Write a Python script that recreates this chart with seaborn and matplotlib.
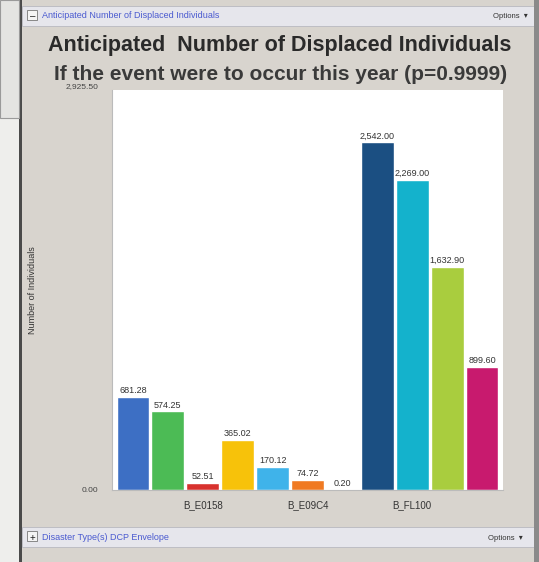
import numpy as np
import matplotlib
matplotlib.use("Agg")
import matplotlib.pyplot as plt
from matplotlib.patches import Rectangle
import seaborn as sns

# Chart data
bar_ids = ["b0", "b1", "b2", "b3", "b4", "b5", "b6", "b7", "b8", "b9", "b10"]
bar_values = [681.28, 574.25, 52.51, 365.02, 170.12, 74.72, 0.20,
              2542.00, 2269.00, 1632.90, 899.60]
bar_colors = ["#3d6fc4", "#4cbb55", "#d8322e", "#f7c20a", "#3fb3ea", "#f07a22",
              "#e8e8e8", "#1b4f82", "#14b2cc", "#a9cd3e", "#c81a6e"]
group_ticks = [2, 5, 8]
group_labels = ["B_E0158", "B_E09C4", "B_FL100"]
y_max = 2925.50

W, H = 539, 562
panel_bg = "#d8d4ce"

sns.set_theme(style="white")
plt.rcParams["font.family"] = ["Liberation Sans", "DejaVu Sans"]

fig = plt.figure(figsize=(W / 100, H / 100), dpi=100)
fig.patch.set_facecolor("#eeeeec")

def px_rect(x, y, w, h, **kw):
    # rectangle given in screen pixels (top-left origin), kept behind the axes
    fig.patches.append(Rectangle((x / W, 1 - (y + h) / H), w / W, h / H,
                                 transform=fig.transFigure, zorder=-5, **kw))

# window chrome
px_rect(22, 0, 517, 562, facecolor=panel_bg, edgecolor="none")
px_rect(19, 0, 3, 562, facecolor="#4a4a4a", edgecolor="none")
px_rect(0, 0, 19, 118, facecolor="#e4e4e2", edgecolor="#9a9a9a", lw=0.8)
px_rect(22, 6, 517, 20, facecolor="#e6e6ec", edgecolor="#b8b8c0", lw=0.6)
px_rect(22, 527, 517, 20, facecolor="#e6e6ec", edgecolor="#b8b8c0", lw=0.6)
px_rect(534, 0, 5, 562, facecolor="#8a8a8a", edgecolor="none")
px_rect(27, 10, 10, 10, facecolor="#f4f4f4", edgecolor="#777777", lw=0.6)
px_rect(27, 531, 10, 10, facecolor="#f4f4f4", edgecolor="#777777", lw=0.6)

fig.text(30 / W, 1 - 16 / H, "\u2013", fontsize=7, ha="left", va="center", color="#222222")
fig.text(32 / W, 1 - 538 / H, "+", fontsize=7, ha="center", va="center", color="#222222")
fig.text(42 / W, 1 - 16 / H, "Anticipated Number of Displaced Individuals",
         fontsize=6.5, color="#4a5ad0", ha="left", va="center")
fig.text(42 / W, 1 - 538 / H, "Disaster Type(s) DCP Envelope",
         fontsize=6.5, color="#4a5ad0", ha="left", va="center")
fig.text(510 / W, 1 - 16 / H, "Options  \u25be", fontsize=5.5, color="#333333",
         ha="center", va="center")
fig.text(505 / W, 1 - 538 / H, "Options  \u25be", fontsize=5.5, color="#333333",
         ha="center", va="center")

# titles
fig.text(280 / W, 1 - 46 / H, "Anticipated  Number of Displaced Individuals",
         fontsize=15.5, fontweight="bold", color="#2a2a2a", ha="center", va="center")
fig.text(281 / W, 1 - 75 / H, "If the event were to occur this year (p=0.9999)",
         fontsize=15, fontweight="bold", color="#3a3a3a", ha="center", va="center")

ax = fig.add_axes([112 / W, 1 - 490 / H, (503 - 112) / W, (490 - 90) / H])
sns.barplot(x=bar_ids, y=bar_values, hue=bar_ids, palette=bar_colors,
            legend=False, width=0.94, saturation=1, ax=ax)
ax.set_facecolor("white")
ax.set_xlim(-0.6, 10.6)
ax.set_ylim(0, y_max)

for i, v in enumerate(bar_values):
    ax.text(i, v + 12, f"{v:,.2f}", fontsize=6.5, color="#333333",
            ha="center", va="bottom")

ax.set_xticks(group_ticks)
ax.set_xticklabels(group_labels, fontsize=7, color="#333333")
ax.tick_params(axis="x", length=3, width=0.6, color="#888888", pad=4)
ax.set_yticks([0, y_max])
ax.set_yticklabels(["0.00", "2,925.50"], fontsize=6, color="#444444")
ax.get_yticklabels()[1].set_verticalalignment("bottom")
ax.tick_params(axis="y", length=0, pad=10)
ax.set_xlabel("")
ax.set_ylabel("Number of Individuals", fontsize=6.5, color="#333333")
ax.yaxis.set_label_coords((37 - 112) / 391, 0.5)
for side, sp in ax.spines.items():
    sp.set_visible(side in ("left", "bottom"))
    sp.set_color("#bbbbbb")
    sp.set_linewidth(0.8)

fig.savefig("out.png", dpi=100, facecolor=fig.get_facecolor())
